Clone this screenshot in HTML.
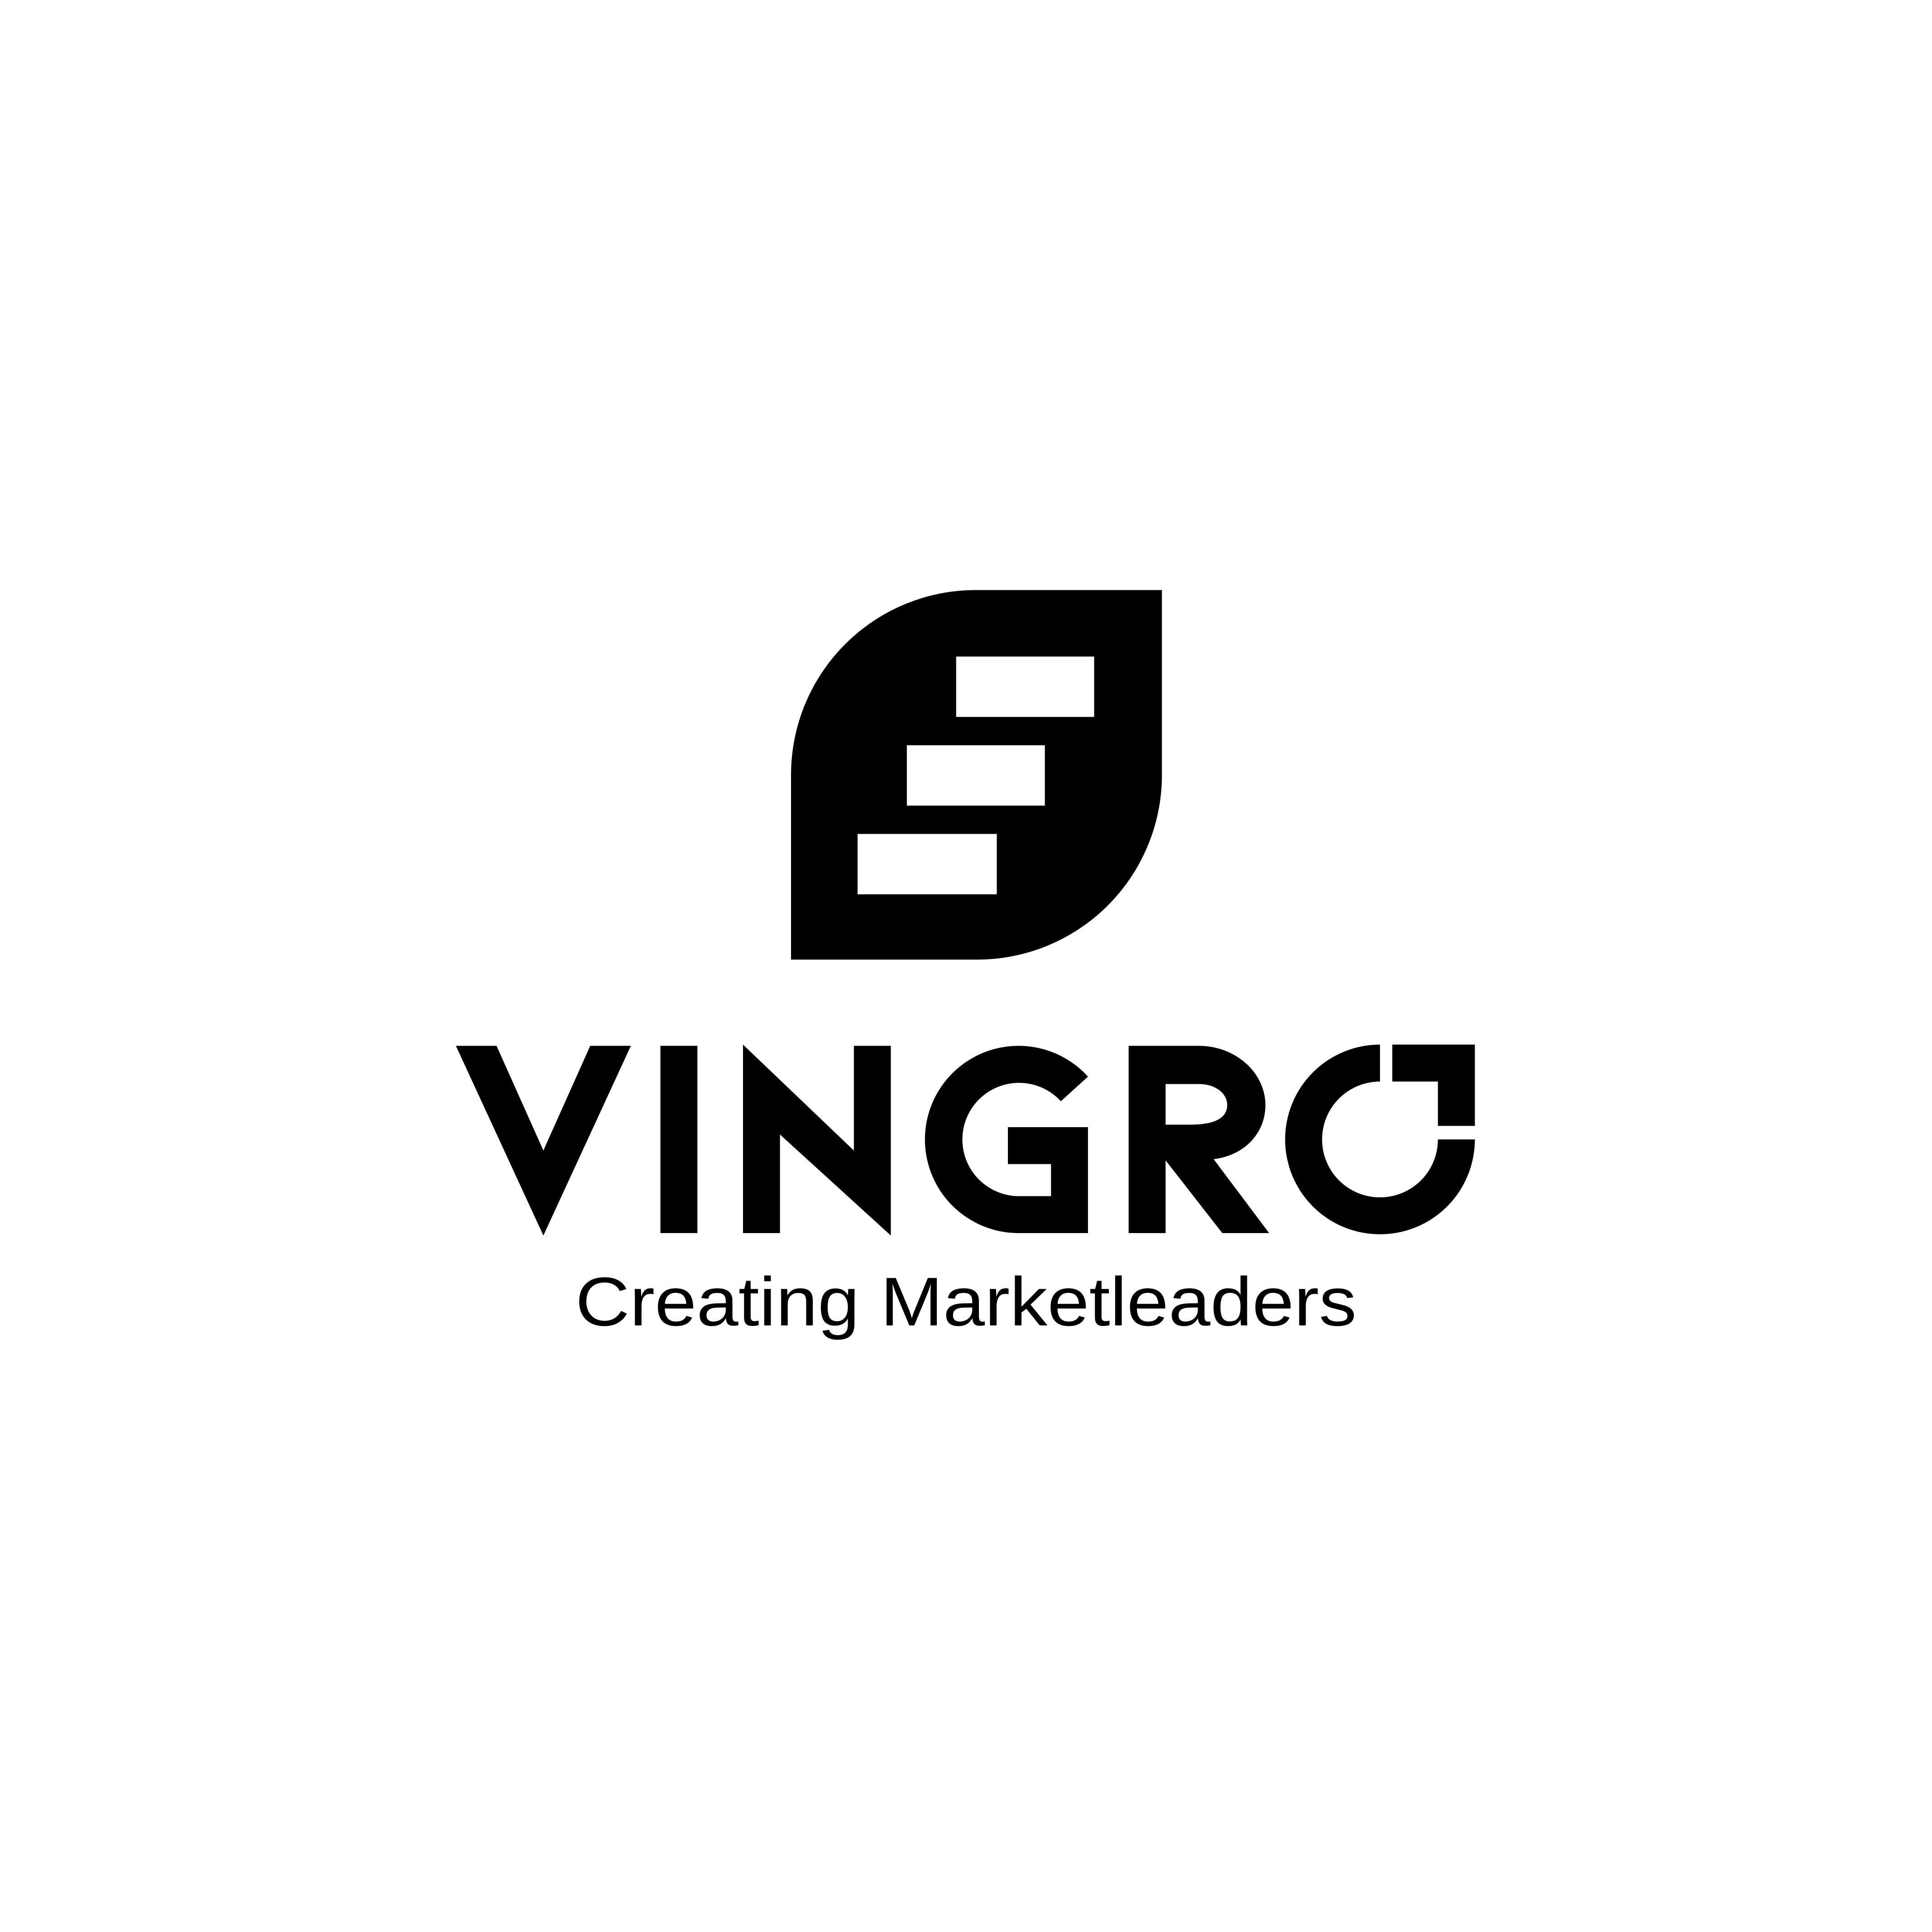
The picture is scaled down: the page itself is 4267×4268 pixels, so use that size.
<!DOCTYPE html>
<html>
<head>
<meta charset="utf-8">
<style>
html,body{margin:0;padding:0;background:#fff;}
svg{display:block;}
</style>
</head>
<body>
<svg width="4267" height="4268" viewBox="0 0 1568 1568.4" xmlns="http://www.w3.org/2000/svg">
  <rect x="0" y="0" width="1568" height="1569" fill="#fff"/>
  <g>
    <path d="M642 628 A150 150 0 0 1 793 479 L943 479 L943 632 A150 150 0 0 1 793 779 L642 779 Z" fill="#000"/>
    <rect x="776" y="533" width="112" height="49" fill="#fff"/>
    <rect x="736" y="605" width="112" height="49" fill="#fff"/>
    <rect x="696" y="677" width="113" height="49" fill="#fff"/>
  </g>
  <g fill="#000">
    <polygon points="370,849 403,849 441,934 479,849 512,849 441,1003"/>
    <rect x="536" y="849" width="30" height="152"/>
    <polygon points="603,848 693,934 693,849 723,849 723,1003 633,921 633,1001 603,1001"/>
    <path d="M883 874 A76 76 0 1 0 825 1001 L883 1001 L883 915 L818 915 L818 945 L853 945 L853 971 L825 971 A46 46 0 1 1 861 894 Z"/>
    <path fill-rule="evenodd" d="M916 849 L973 849 C1003 849 1027 871 1027 897 C1027 920 1010 938 985 941 L1030 1001 L992 1001 L946 942 L946 1001 L916 1001 Z M946 880 L973 880 C987 880 996 888 996 897 C996 907 987 913 966 913 L946 913 Z"/>
    <path d="M1120 848 A77 77 0 1 0 1197 925 L1167 925 A47 47 0 1 1 1120 878 Z"/>
    <path d="M1130 848 L1197 848 L1197 914 L1167 914 L1167 878 L1130 878 Z"/>
  </g>
  <text x="467" y="1076" textLength="634" lengthAdjust="spacingAndGlyphs" font-family="Liberation Sans, sans-serif" font-size="56" fill="#000">Creating Marketleaders</text>
</svg>
</body>
</html>
